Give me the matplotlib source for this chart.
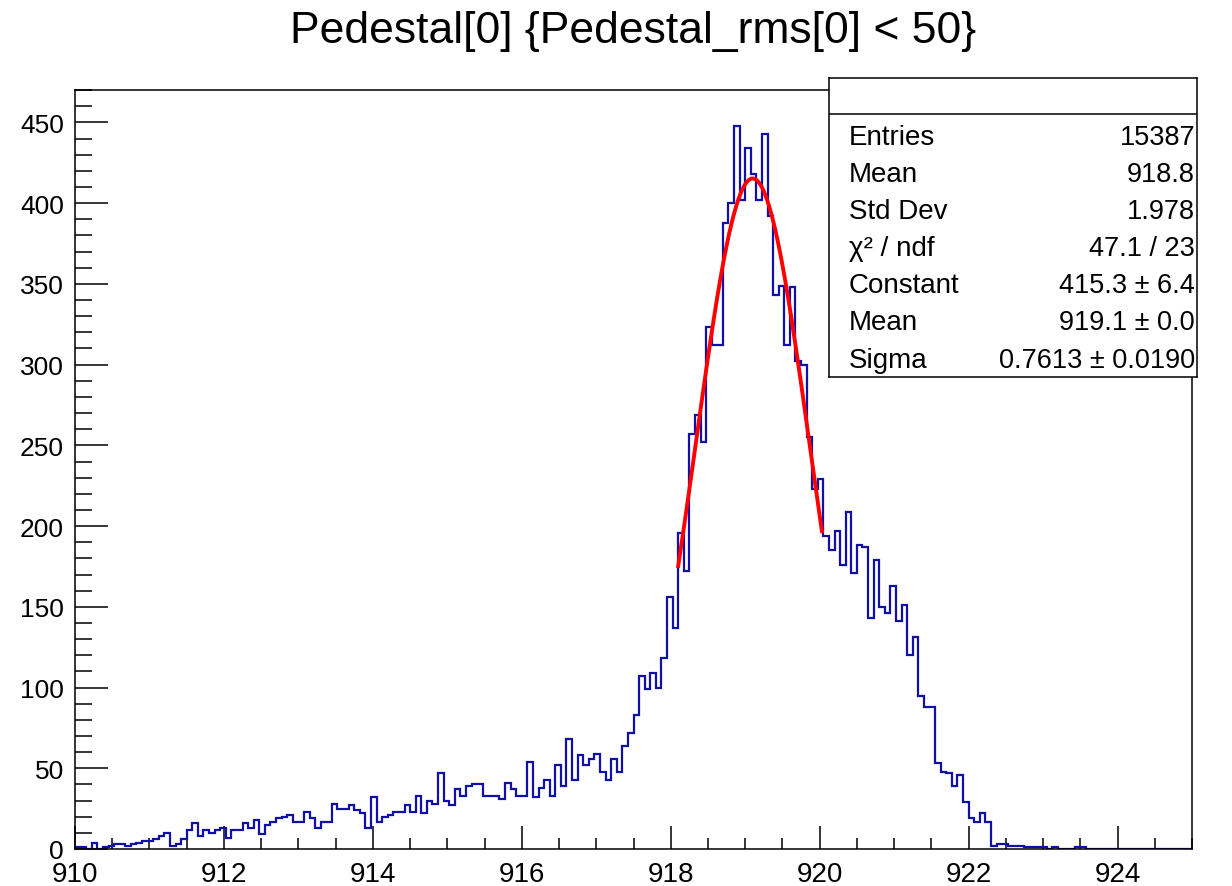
import numpy as np
import matplotlib.pyplot as plt
from matplotlib.ticker import MultipleLocator

plt.rcParams['font.family'] = ['Liberation Sans', 'DejaVu Sans']

# histogram: 200 bins from 910 to 925, counts
x_lo, x_hi, n_bins = 910.0, 925.0, 200
counts = [
    1, 1, 0, 4, 0, 1, 2, 3, 3, 2,
    3, 4, 5, 5, 6, 8, 10, 2, 3, 6,
    12, 16, 8, 12, 10, 12, 13, 7, 12, 12,
    16, 13, 18, 9, 15, 17, 19, 20, 21, 17,
    17, 23, 19, 13, 17, 17, 28, 25, 25, 27,
    24, 22, 13, 32, 17, 20, 21, 23, 23, 27,
    23, 33, 22, 30, 28, 47, 30, 27, 37, 33,
    39, 40, 40, 33, 33, 33, 31, 41, 37, 33,
    33, 54, 32, 38, 43, 33, 52, 39, 68, 43,
    58, 52, 56, 59, 48, 43, 56, 48, 64, 72,
    83, 107, 99, 109, 100, 118, 156, 137, 196, 172,
    257, 269, 252, 323, 312, 312, 388, 400, 448, 402,
    434, 418, 402, 443, 392, 343, 349, 312, 348, 302,
    300, 255, 223, 229, 194, 185, 197, 176, 209, 171,
    188, 187, 143, 179, 150, 146, 163, 141, 151, 120,
    131, 95, 88, 88, 53, 48, 47, 39, 46, 29,
    19, 17, 22, 17, 2, 3, 3, 2, 2, 2,
    1, 1, 1, 1, 0, 1, 0, 0, 0, 1,
    1, 0, 0, 0, 0, 0, 0, 0, 0, 0,
    0, 0, 0, 0, 0, 0, 0, 0, 0, 0,
]

# gaussian fit parameters (from the stats box)
fit_constant = 415.3
fit_mean = 919.1
fit_sigma = 0.7613
fit_lo, fit_hi = 918.1, 920.03

title = "Pedestal[0] {Pedestal_rms[0] < 50}"
stats_labels = ["Entries", "Mean", "Std Dev", "\u03c7\u00b2 / ndf",
                "Constant", "Mean", "Sigma"]
stats_values = ["15387", "918.8", "1.978", "47.1 / 23",
                "415.3 \u00b1 6.4", "919.1 \u00b1 0.0", "0.7613 \u00b1 0.0190"]

W, H = 1232, 887
fig = plt.figure(figsize=(W / 100, H / 100), dpi=100)

ax = fig.add_axes([75 / W, 1 - 850 / H, (1192 - 75) / W, (850 - 90.5) / H])
edges = np.linspace(x_lo, x_hi, n_bins + 1)
ax.stairs(counts, edges, color='#1010a8', lw=1.6, zorder=2)

xf = np.linspace(fit_lo, fit_hi, 200)
yf = fit_constant * np.exp(-0.5 * ((xf - fit_mean) / fit_sigma) ** 2)
ax.plot(xf, yf, color='red', lw=2.8, zorder=3)

ax.set_xlim(x_lo, x_hi)
ax.set_ylim(0, 1.05 * max(counts))
ax.xaxis.set_major_locator(MultipleLocator(2))
ax.xaxis.set_minor_locator(MultipleLocator(0.5))
ax.yaxis.set_major_locator(MultipleLocator(50))
ax.yaxis.set_minor_locator(MultipleLocator(10))
ax.tick_params(which='both', direction='in', top=False, right=False, width=1.1)
ax.tick_params(axis='x', which='major', length=16.3, pad=9, labelsize=20)
ax.tick_params(axis='x', which='minor', length=8.2)
ax.tick_params(axis='y', which='major', length=24, pad=8, labelsize=19)
ax.tick_params(axis='y', which='minor', length=12)
for s in ax.spines.values():
    s.set_linewidth(1.1)

fig.text(633.5 / W, 1 - 43.3 / H, title, ha='center', va='baseline', fontsize=32)

# stats box
bx0, bx1, by0, by1 = 828.7, 1197.0, 78.7, 377.7
sax = fig.add_axes([bx0 / W, 1 - by1 / H, (bx1 - bx0) / W, (by1 - by0) / H])
sax.set_xlim(0, bx1 - bx0)
sax.set_ylim(by1 - by0, 0)
sax.set_xticks([])
sax.set_yticks([])
for s in sax.spines.values():
    s.set_linewidth(1.1)
sax.axhline(115.3 - by0, color='black', lw=1.1)
for k, (lab, val) in enumerate(zip(stats_labels, stats_values)):
    yb = 145 - by0 + 37.1 * k
    sax.text(20, yb, lab, ha='left', va='baseline', fontsize=20)
    sax.text(bx1 - bx0 - 2, yb, val, ha='right', va='baseline', fontsize=19.5)

fig.savefig('out.png', dpi=100)
